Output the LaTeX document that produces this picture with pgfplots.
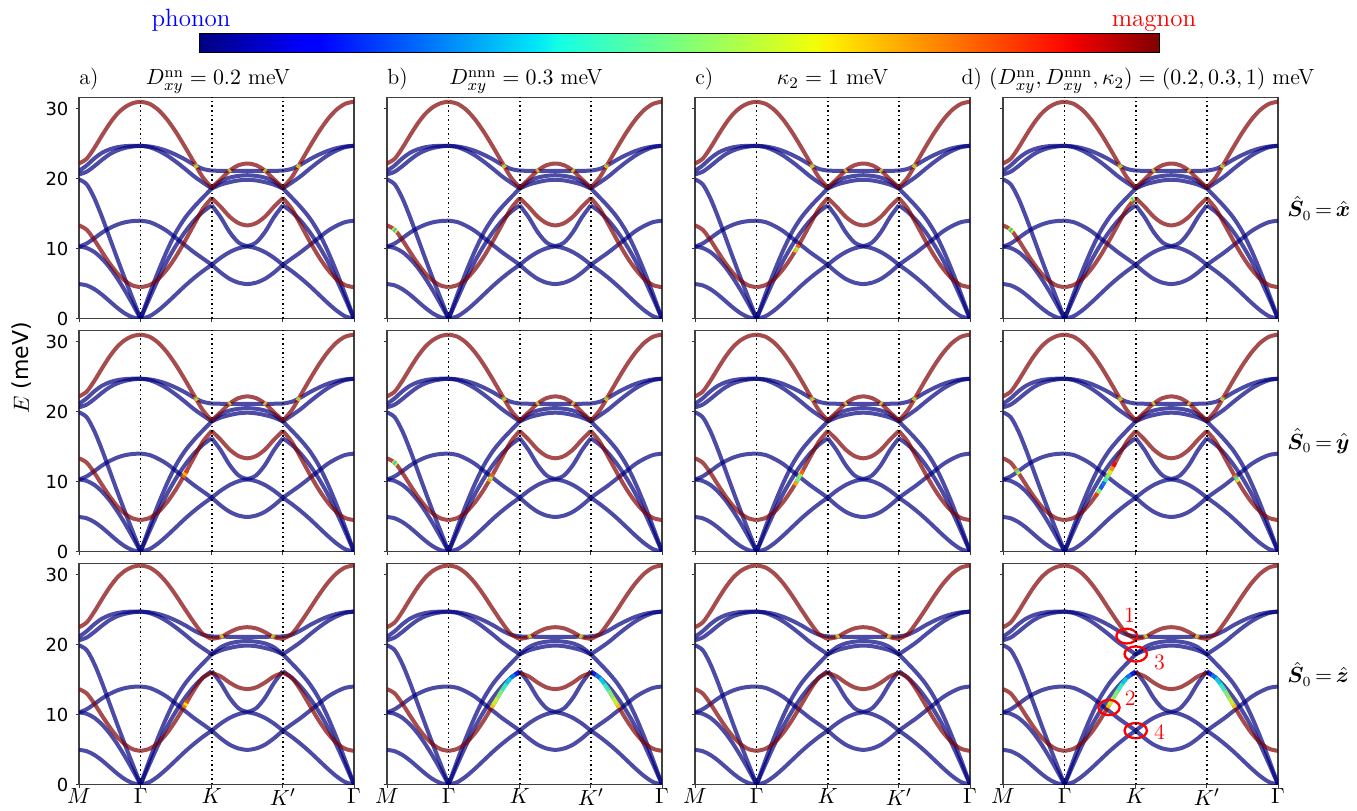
\documentclass[border=0pt]{standalone}
\usepackage{fontspec}
\usepackage{bm}
\usepackage{pgfplots}
\usepackage{pgfplotstable}
\pgfplotsset{compat=1.18}
\newfontfamily\djv{DejaVu Sans}
\definecolor{phc}{rgb}{0,0,0.5}
\definecolor{mgc}{rgb}{0.5,0,0}
\pgfdeclarehorizontalshading{jetbar}{100bp}{rgb(0bp)=(0,0,0.5); rgb(25bp)=(0,0,0.5); rgb(30.5bp)=(0,0,1); rgb(31.25bp)=(0,0,1); rgb(42.5bp)=(0,0.9,0.97); rgb(43.75bp)=(0.08,1,0.9); rgb(57bp)=(0.94,1,0.03); rgb(58bp)=(1,0.93,0); rgb(69.5bp)=(1,0.07,0); rgb(70.5bp)=(0.96,0,0); rgb(75bp)=(0.5,0,0); rgb(100bp)=(0.5,0,0)}

% M -> Gamma
\pgfplotstableread{
x        ZA    ZO    TA    LA    PA    PB    MU    ML    MUz   MLz
0        4.95  10.3  10.3  19.9  21.1  20.6  22.17 13.33 22.47 13.63
0.10825  4.76  10.75 10.1  19.2  21.9  21.0  22.85 12.71 23.15 13.01
0.2165   4.22  11.5  9.52  17.2  22.9  21.8  24.4  11.24 24.7  11.54
0.32475  3.42  12.3  8.56  14.5  23.7  22.7  26.2  9.52  26.5  9.82
0.433    2.475 12.95 7.28  11.5  24.2  23.5  27.9  7.87  28.2  8.17
0.54125  1.53  13.45 5.72  8.5   24.5  24.05 29.3  6.46  29.6  6.76
0.6495   0.725 13.78 3.94  5.6   24.65 24.4  30.25 5.39  30.55 5.69
0.75775  0.19  13.95 2.01  2.8   24.7  24.6  30.8  4.73  31.1  5.03
0.866    0     14.0  0     0     24.7  24.7  31.0  4.5   31.3  4.8
}\tabMG
% Gamma -> K
\pgfplotstableread{
x      ZA    ZO    TA    LA    PA    PB    MU    ML    MUz   MLz
0.866  0     14.0  0     0     24.7  24.7  31.0  4.5   31.3  4.8
0.991  0.35  13.8  2.9   3.5   24.6  24.5  30.70 4.80  31.0  5.1
1.116  1.2   13.25 5.7   6.8   24.35 24.0  29.82 5.68  30.12 5.98
1.241  2.3   12.5  8.3   9.8   23.95 23.3  28.42 7.10  28.73 7.39
1.366  3.5   11.5  10.5  12.4  23.4  22.4  26.61 8.94  26.97 9.23
1.491  4.7   10.5  12.4  14.4  22.75 21.4  24.53 11.11 25.03 11.34
1.616  5.8   9.5   14.0  15.95 22.0  20.35 22.34 13.43 23.15 13.48
1.741  6.8   8.6   15.25 17.3  21.4  19.45 20.19 15.71 21.5  15.25
1.866  7.7   7.7   16.2  18.6  21.15 18.6  18.73 17.23 20.8  15.95
}\tabGK
% K -> M' -> K'
\pgfplotstableread{
x      ZA    ZO    TA    LA    PA    PB    MU    ML    MUz   MLz
1.866  7.7   7.7   16.2  18.6  21.15 18.6  18.73 17.23 20.8  15.95
1.991  6.6   8.7   14.5  19.15 21.12 19.6  19.91 15.99 21.05 15.45
2.116  5.7   9.5   12.4  19.5  21.1  20.15 21.14 14.59 21.75 14.57
2.241  5.15  10.05 10.9  19.75 21.1  20.4  21.92 13.66 22.3  13.88
2.366  4.95  10.3  10.4  19.85 21.1  20.5  22.17 13.33 22.47 13.63
2.491  5.15  10.05 10.9  19.75 21.1  20.4  21.92 13.66 22.3  13.88
2.616  5.7   9.5   12.4  19.5  21.1  20.15 21.14 14.59 21.75 14.57
2.741  6.6   8.7   14.5  19.15 21.12 19.6  19.91 15.99 21.05 15.45
2.866  7.7   7.7   16.2  18.6  21.15 18.6  18.73 17.23 20.8  15.95
}\tabKK

\pgfplotsset{
  bandax/.style={scale only axis, width=137.5pt, height=110.6pt, anchor=south west,
    xmin=0, xmax=3.866, ymin=0, ymax=31.6,
    xtick={0,0.866,1.866,2.866,3.866}, ytick={0,10,20,30},
    xticklabels={}, yticklabels={},
    tick align=outside, tick pos=left, major tick length=1.75pt,
    tick style={black!80, line width=0.5pt},
    axis line style={black!75, line width=0.6pt},
    colormap/jet, point meta min=0, point meta max=1},
  xlab/.style={xticklabels={$M$,$\Gamma$,$K$,$K'$,$\Gamma$},
    xticklabel style={font=\fontsize{11}{13}\selectfont, inner sep=1pt, yshift=1pt}},
  ylab/.style={yticklabels={0,10,20,30},
    yticklabel style={font=\djv\fontsize{9}{10}\selectfont}},
  phon/.style={smooth, line width=2pt, color=phc, opacity=0.7},
  magn/.style={smooth, line width=2pt, color=mgc, opacity=0.7},
  hyb/.style={mesh, point meta=explicit, line width=2pt, opacity=0.9},
}

\newcommand{\bandset}[2]{%
  \pgfplotsinvokeforeach{ZA,ZO,TA,LA,PA,PB}{%
    \addplot[phon] table[x=x,y=##1]{\tabMG};
    \addplot[phon] table[x=x,y=##1]{\tabGK};
    \addplot[phon] table[x=x,y=##1]{\tabKK};
    \addplot[phon] table[x expr={4.732-\thisrow{x}},y=##1]{\tabGK};
  }%
  \pgfplotsinvokeforeach{#1,#2}{%
    \addplot[magn] table[x=x,y=##1]{\tabMG};
    \addplot[magn] table[x=x,y=##1]{\tabGK};
    \addplot[magn] table[x=x,y=##1]{\tabKK};
    \addplot[magn] table[x expr={4.732-\thisrow{x}},y=##1]{\tabGK};
  }%
}
\newcommand{\vlines}{%
  \pgfplotsinvokeforeach{0.866,1.866,2.866}{%
    \draw[black, line width=0.8pt, dash pattern=on 0.8pt off 1.5pt] (axis cs:##1,0) -- (axis cs:##1,31.6);
  }%
}
% small mixing spots at upper-magnon / flat-phonon crossings (rows 1,2)
\newcommand{\spotsA}{%
  \addplot[hyb] coordinates {(1.625,22.18)[1] (1.637,21.97)[0.6] (1.649,21.77)[0.35] (1.661,21.56)[1]};
  \addplot[hyb] coordinates {(2.095,20.97)[1] (2.107,21.07)[0.6] (2.119,21.17)[0.35] (2.131,21.27)[1]};
  \addplot[hyb] coordinates {(2.637,20.97)[1] (2.625,21.07)[0.6] (2.613,21.17)[0.35] (2.601,21.27)[1]};
  \addplot[hyb] coordinates {(3.107,22.18)[1] (3.095,21.97)[0.6] (3.083,21.77)[0.35] (3.071,21.56)[1]};
}
\newcommand{\spotsB}{%
  \addplot[hyb] coordinates {(1.975,20.98)[1] (1.992,21.07)[0.6] (2.008,21.17)[0.35] (2.025,21.28)[1]};
  \addplot[hyb] coordinates {(2.757,20.98)[1] (2.740,21.07)[0.6] (2.724,21.17)[0.35] (2.707,21.28)[1]};
}
% strong hybridisation along the lower magnon (row 3, b and d)
\newcommand{\hybZ}{%
  \addplot[hyb] coordinates {(1.47,10.95)[0.75] (1.491,11.34)[0.6] (1.553,12.41)[0.55] (1.616,13.48)[0.45] (1.679,14.42)[0.38] (1.741,15.25)[0.3] (1.80,15.7)[0.2] (1.84,15.9)[0.12] (1.866,15.95)[0.08]};
  \addplot[hyb] coordinates {(3.262,10.95)[0.75] (3.241,11.34)[0.6] (3.179,12.41)[0.55] (3.116,13.48)[0.45] (3.053,14.42)[0.38] (2.991,15.25)[0.3] (2.932,15.7)[0.2] (2.892,15.9)[0.12] (2.866,15.95)[0.08]};
}

\newcommand{\panel}[6]{%
  \begin{axis}[bandax, at={(#1,#2)}, #3]
    \bandset{#4}{#5}
    #6
    \vlines
  \end{axis}%
}

\begin{document}
\begin{tikzpicture}
\path[use as bounding box] (0,0) rectangle (678.5pt,405pt);

% row 1 : S0 = x
\panel{39.5pt}{245.65pt}{ylab}{MU}{ML}{\spotsA}
\panel{193.5pt}{245.65pt}{}{MU}{ML}{\spotsA
  \addplot[hyb] coordinates {(0.08,12.9)[0.9] (0.1,12.75)[0.4] (0.12,12.55)[0.3] (0.14,12.4)[0.9]};}
\panel{347.5pt}{245.65pt}{}{MU}{ML}{\spotsA
  \addplot[hyb] coordinates {(1.40,9.5)[0.9] (1.42,9.85)[0.45] (1.44,10.2)[0.6] (1.46,10.55)[0.95]};}
\panel{501.5pt}{245.65pt}{}{MU}{ML}{\spotsA
  \addplot[hyb] coordinates {(0.08,12.9)[0.9] (0.1,12.75)[0.4] (0.12,12.55)[0.3] (0.14,12.4)[0.9]};
  \addplot[hyb] coordinates {(1.79,16.9)[0.9] (1.81,17.05)[0.4] (1.83,17.15)[0.3] (1.85,17.2)[0.9]};}

% row 2 : S0 = y
\panel{39.5pt}{129.2pt}{ylab}{MU}{ML}{\spotsA
  \addplot[hyb] coordinates {(1.46,10.55)[0.9] (1.48,10.9)[0.65] (1.50,11.25)[0.7] (1.52,11.6)[0.95]};}
\panel{193.5pt}{129.2pt}{}{MU}{ML}{\spotsA
  \addplot[hyb] coordinates {(1.43,10.0)[0.9] (1.45,10.35)[0.5] (1.47,10.7)[0.6] (1.49,11.1)[0.95]};
  \addplot[hyb] coordinates {(0.08,12.9)[0.9] (0.1,12.75)[0.4] (0.12,12.55)[0.3] (0.14,12.4)[0.9]};}
\panel{347.5pt}{129.2pt}{}{MU}{ML}{\spotsA
  \addplot[hyb] coordinates {(1.40,9.5)[0.9] (1.43,10.0)[0.5] (1.46,10.55)[0.45] (1.491,11.11)[0.6] (1.52,11.6)[0.95]};}
\panel{501.5pt}{129.2pt}{}{MU}{ML}{\spotsA
  \addplot[hyb] coordinates {(1.30,7.9)[0.95] (1.33,8.35)[0.7] (1.366,8.94)[0.3] (1.40,9.5)[0.15] (1.43,10.0)[0.35] (1.46,10.55)[0.5] (1.491,11.11)[0.55] (1.52,11.6)[0.65] (1.55,12.15)[0.8] (1.58,12.75)[0.95]};
  \addplot[hyb] coordinates {(0.17,11.85)[0.9] (0.19,11.6)[0.55] (0.21,11.35)[0.3] (0.23,11.1)[0.9]};
  \addplot[hyb] coordinates {(3.25,10.9)[0.9] (3.27,10.6)[0.55] (3.29,10.3)[0.3] (3.31,10.0)[0.9]};}

% row 3 : S0 = z
\panel{39.5pt}{12.75pt}{ylab,xlab}{MUz}{MLz}{\spotsB
  \addplot[hyb] coordinates {(1.47,10.95)[0.9] (1.49,11.3)[0.6] (1.51,11.65)[0.65] (1.53,12.0)[0.95]};}
\panel{193.5pt}{12.75pt}{xlab}{MUz}{MLz}{\spotsB\hybZ}
\panel{347.5pt}{12.75pt}{xlab}{MUz}{MLz}{\spotsB}
\panel{501.5pt}{12.75pt}{xlab}{MUz}{MLz}{\spotsB\hybZ
  \draw[red, line width=1.15pt] (axis cs:1.74,21.2) ellipse [x radius=5.2pt, y radius=3.7pt];
  \draw[red, line width=1.15pt] (axis cs:1.866,18.64) ellipse [x radius=5.6pt, y radius=3.8pt];
  \draw[red, line width=1.15pt] (axis cs:1.49,11.0) ellipse [x radius=5.3pt, y radius=3.8pt];
  \draw[red, line width=1.15pt] (axis cs:1.866,7.7) ellipse [x radius=5.6pt, y radius=3.8pt];
  \node[red, font=\fontsize{11}{13}\selectfont] at (axis cs:1.78,24.2) {1};
  \node[red, font=\fontsize{11}{13}\selectfont] at (axis cs:1.79,12.3) {2};
  \node[red, font=\fontsize{11}{13}\selectfont] at (axis cs:2.2,17.5) {3};
  \node[red, font=\fontsize{11}{13}\selectfont] at (axis cs:2.2,7.55) {4};}

% titles
\begin{scope}[every node/.style={font=\fontsize{11}{13}\selectfont, inner sep=0pt}]
\node[anchor=base west] at (39.5pt,362.5pt) {a)};
\node[anchor=base] at (109pt,362.5pt) {$D_{xy}^{\mathrm{nn}}=0.2$ meV};
\node[anchor=base west] at (193.5pt,362.5pt) {b)};
\node[anchor=base] at (263pt,362.5pt) {$D_{xy}^{\mathrm{nnn}}=0.3$ meV};
\node[anchor=base west] at (347.5pt,362.5pt) {c)};
\node[anchor=base] at (416.25pt,362.5pt) {$\kappa_2=1$ meV};
\node[anchor=base] at (569pt,362.5pt) {d) $(D_{xy}^{\mathrm{nn}},D_{xy}^{\mathrm{nnn}},\kappa_2)=(0.2,0.3,1)$ meV};
\end{scope}

% colour bar
\shade[shading=jetbar] (99.5pt,378.5pt) rectangle (579.5pt,388pt);
\draw[black, line width=0.5pt] (99.5pt,378.5pt) rectangle (579.5pt,388pt);
\node[anchor=base, blue, font=\fontsize{12.5}{15}\selectfont, inner sep=0pt] at (95.5pt,391.6pt) {phonon};
\node[anchor=base, red, font=\fontsize{12.5}{15}\selectfont, inner sep=0pt] at (577pt,391.6pt) {magnon};

% side labels
\node[rotate=90, font=\fontsize{11}{13}\selectfont] at (11pt,221pt) {$E$ {\djv (meV)}};
\node[anchor=west, font=\fontsize{10.5}{13}\selectfont, inner sep=0pt] at (643.5pt,301pt) {$\bm{\hat{S}}_0\,{=}\,\bm{\hat{x}}$};
\node[anchor=west, font=\fontsize{10.5}{13}\selectfont, inner sep=0pt] at (643.5pt,184.5pt) {$\bm{\hat{S}}_0\,{=}\,\bm{\hat{y}}$};
\node[anchor=west, font=\fontsize{10.5}{13}\selectfont, inner sep=0pt] at (643.5pt,68pt) {$\bm{\hat{S}}_0\,{=}\,\bm{\hat{z}}$};
\end{tikzpicture}
\end{document}
